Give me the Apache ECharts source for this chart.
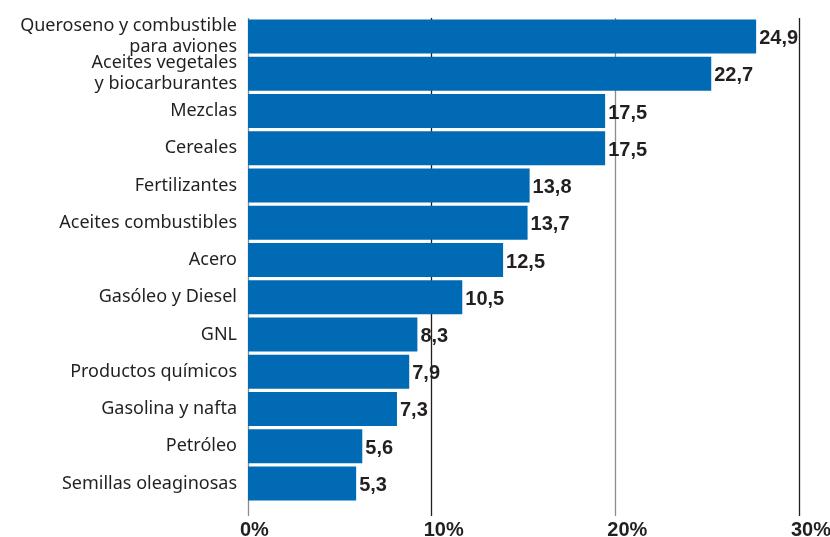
<!DOCTYPE html>
<html>
<head>
<meta charset="utf-8">
<script src="https://cdn.jsdelivr.net/npm/echarts@6/dist/echarts.min.js"></script>
<style>
	html, body { margin: 0; padding: 0; background: #fff; }
	#chart { width: 830px; height: 537px; }
</style>
</head>
<body>
<div id="chart"></div>
<script>
// categorias de arriba hacia abajo
var categories = [
	"Queroseno y combustible\npara aviones",
	"Aceites vegetales\ny biocarburantes",
	"Mezclas",
	"Cereales",
	"Fertilizantes",
	"Aceites combustibles",
	"Acero",
	"Gasóleo y Diesel",
	"GNL",
	"Productos químicos",
	"Gasolina y nafta",
	"Petróleo",
	"Semillas oleaginosas"
];
var values = [24.9, 22.7, 17.5, 17.5, 13.8, 13.7, 12.5, 10.5, 8.3, 7.9, 7.3, 5.6, 5.3];
var axisTicks = [0, 10, 20, 30];

var textColor = "#231f20";
var barColor = "#006ab5";

var myChart = echarts.init(document.getElementById("chart"));
var option = {
	animation: false,
	grid: [
		// barras
		{ left: 248, right: 31, top: 18, height: 484, outerBoundsMode: "none" },
		// eje de porcentajes y lineas
		{ left: 248, right: 31, top: 18, bottom: 21, outerBoundsMode: "none" }
	],
	xAxis: [
		{
			gridIndex: 0,
			type: "value",
			min: 0,
			max: 27, // la escala de las barras del original no coincide con el eje
			show: false
		},
		{
			gridIndex: 1,
			type: "value",
			min: axisTicks[0],
			max: axisTicks[axisTicks.length - 1],
			interval: axisTicks[1] - axisTicks[0],
			axisLine: { show: false },
			axisTick: { show: false },
			splitLine: {
				show: true,
				lineStyle: {
					color: ["#8c8c8c", textColor, "#8c8c8c", textColor],
					width: 1.3
				}
			},
			axisLabel: {
				formatter: "{value}%",
				color: textColor,
				fontFamily: "Liberation Sans",
				fontWeight: "bold",
				fontSize: 20,
				lineHeight: 20,
				align: "left",
				padding: [0, 0, 0, -8],
				margin: 4
			},
			z: 0
		}
	],
	yAxis: [
		{
			gridIndex: 0,
			type: "category",
			data: categories,
			inverse: true,
			axisLine: { show: false },
			axisTick: { show: false },
			axisLabel: {
				interval: 0,
				color: textColor,
				fontFamily: "Noto Sans",
				fontSize: 18,
				lineHeight: 21,
				margin: 11
			}
		},
		{
			gridIndex: 1,
			type: "value",
			show: false
		}
	],
	series: [
		{
			type: "bar",
			xAxisIndex: 0,
			yAxisIndex: 0,
			data: values,
			barWidth: 34,
			itemStyle: { color: barColor },
			label: {
				show: true,
				position: "right",
				distance: 3,
				offset: [0, 2],
				color: textColor,
				fontFamily: "Liberation Sans",
				fontWeight: "bold",
				fontSize: 20,
				formatter: function (p) {
					return String(p.value).replace(".", ",");
				}
			},
			z: 2
		}
	]
};
myChart.setOption(option);
</script>
</body>
</html>
